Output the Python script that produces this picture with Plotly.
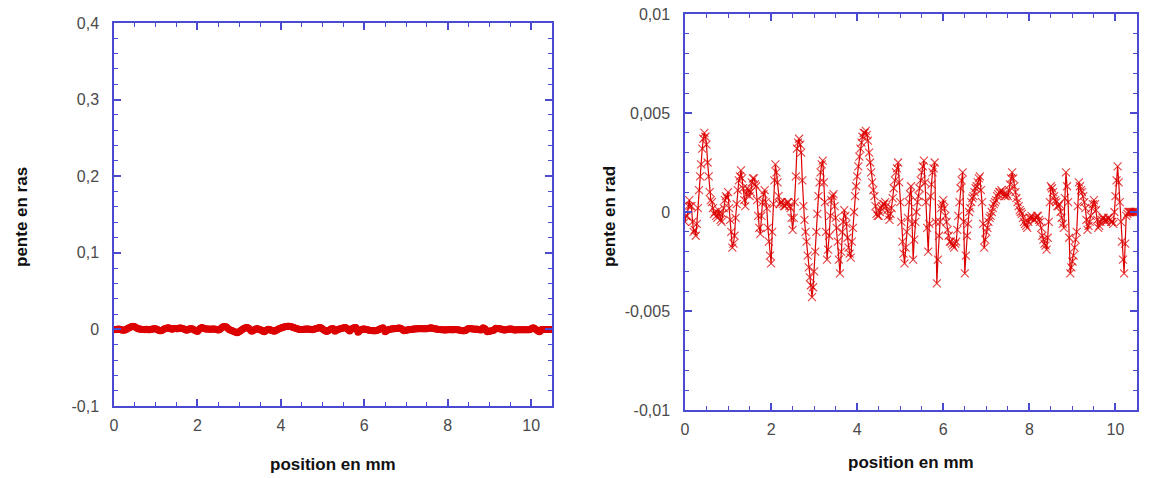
import numpy as np
import plotly.graph_objects as go

# positions (mm): main samples every 0.05 mm, plus in-between samples
x_step = 0.05
n_pts = 211
positions_main = [round(i * x_step, 3) for i in range(n_pts)]
positions_mid = [round(0.025 + i * x_step, 3) for i in range(n_pts - 1)]

# slope values in mrad
slope_mrad_main = [
    -0.5, -0.2, 0.6, 0.3, -1.0, -1.2, 0.2, 1.8, 3.2, 4.0,
    3.4, 1.8, 0.6, 0.2, 0.0, -0.3, -0.1, -0.5, 0.2, 0.8,
    1.0, -0.4, -1.8, -1.2, 0.4, 1.6, 2.1, 1.2, 0.3, 1.2,
    0.8, 1.5, 1.7, 1.3, -0.2, -1.1, 0.5, 1.1, 0.2, -1.5,
    -2.6, 0.4, 2.4, 1.5, 0.4, 0.5, 0.3, 0.4, 0.5, 0.2,
    -0.9, 0.5, 3.2, 3.7, 3.0, 0.3, -1.0, -2.2, -3.3, -4.3,
    -3.0, -1.0, 0.8, 2.0, 2.6, 0.5, -2.4, -1.2, 0.6, 0.9,
    -0.3, -1.5, -3.1, -1.0, 0.1, -0.6, -1.8, -2.3, -0.8, 0.8,
    1.8, 2.8, 3.5, 4.0, 4.1, 3.6, 2.5, 1.5, 0.8, -0.1,
    -0.2, 0.2, 0.4, 0.5, 0.1, -0.4, 0.2, 1.2, 2.0, 2.5,
    0.5, -1.5, -2.6, -1.0, 0.5, 1.3, -2.4, -0.5, 0.5, 1.2,
    2.0, 2.6, 0.5, -2.0, 0.8, 2.0, 2.5, -3.6, -1.2, 0.2,
    0.6, -0.2, -0.9, -1.5, -1.6, -1.8, -1.5, -0.2, 1.2, 2.0,
    -3.1, -1.2, 0.0, 0.5, 0.8, 1.2, 1.5, 1.8, 0.5, -1.8,
    -1.0, -0.5, -0.2, 0.2, 0.5, 0.8, 1.0, 1.1, 0.9, 0.8,
    0.8, 1.4, 2.0, 1.3, 0.7, 0.3, 0.0, -0.3, -0.6, -0.8,
    -0.3, -0.2, -0.4, -0.3, -0.2, -0.5, -1.2, -1.6, -1.9, -0.5,
    1.3, 1.0, 0.6, 0.3, 0.4, -0.3, -0.8, 2.0, 0.5, -3.1,
    -2.5, -1.8, -1.0, 1.5, 1.1, 0.8, 0.2, -0.9, -0.5, 0.2,
    0.6, 0.1, -0.8, -0.5, -0.3, -0.4, -0.4, -0.3, -0.5, -0.6,
    0.8, 2.3, 0.5, -1.5, -3.1, -0.2, 0.0, 0.0, 0.0, 0.0,
    0.0,
]
slope_mrad_mid = [
    -0.2, 0.3, 0.3, -0.5, -0.9, -0.6, 1.1, 2.4, 3.7, 3.8,
    2.5, 1.0, 0.5, -0.1, -0.2, 0.1, -0.4, -0.1, 0.6, 0.7,
    0.2, -1.0, -1.6, -0.3, 1.1, 1.8, 1.7, 0.6, 0.9, 1.1,
    1.0, 1.7, 1.4, 0.6, -0.8, -0.2, 0.9, 0.5, -0.8, -2.2,
    -1.0, 1.6, 2.0, 0.8, 0.5, 0.4, 0.3, 0.5, 0.3, -0.3,
    -0.3, 1.8, 3.5, 3.4, 1.6, -0.4, -1.5, -2.8, -3.7, -3.8,
    -2.0, -0.1, 1.5, 2.4, 1.5, -1.0, -1.9, -0.2, 0.8, 0.3,
    -0.8, -2.4, -2.0, -0.5, -0.2, -1.3, -2.1, -1.5, 0.0, 1.3,
    2.3, 3.2, 3.8, 4.0, 3.9, 3.0, 2.0, 1.1, 0.3, -0.2,
    0.0, 0.3, 0.4, 0.3, -0.2, -0.1, 0.7, 1.6, 2.2, 1.5,
    -0.5, -2.1, -1.8, -0.3, 0.9, -0.6, -1.4, 0.0, 0.8, 1.6,
    2.3, 1.5, -0.8, -0.6, 1.4, 2.2, -0.5, -2.4, -0.5, 0.4,
    0.2, -0.5, -1.2, -1.5, -1.7, -1.6, -0.9, 0.5, 1.6, -0.5,
    -2.2, -0.6, 0.2, 0.7, 1.0, 1.3, 1.7, 1.1, -0.6, -1.4,
    -0.8, -0.3, 0.0, 0.4, 0.6, 0.9, 1.0, 1.0, 0.8, 0.9,
    1.1, 1.7, 1.7, 1.0, 0.5, 0.1, -0.1, -0.5, -0.7, -0.5,
    -0.3, -0.3, -0.4, -0.2, -0.4, -0.8, -1.4, -1.7, -1.3, 0.5,
    1.2, 0.8, 0.5, 0.3, 0.0, -0.6, 0.7, 1.3, -1.3, -2.8,
    -2.2, -1.4, 0.3, 1.3, 1.0, 0.5, -0.4, -0.7, -0.2, 0.4,
    0.4, -0.4, -0.7, -0.4, -0.3, -0.5, -0.3, -0.4, -0.5, 0.0,
    1.6, 1.5, -0.5, -2.4, -1.6, -0.1, 0.0, 0.0, 0.0, 0.0,
]

# merge into a single ordered series
pairs = sorted(zip(positions_main + positions_mid, slope_mrad_main + slope_mrad_mid))
positions = [p for p, _ in pairs]
slope_rad = [v / 1000.0 for _, v in pairs]

x_ticks = [0, 2, 4, 6, 8, 10]
x_ticktext = ["0", "2", "4", "6", "8", "10"]
left_yticks = [-0.1, 0, 0.1, 0.2, 0.3, 0.4]
left_yticktext = ["-0,1", "0", "0,1", "0,2", "0,3", "0,4"]
right_yticks = [-0.01, -0.005, 0, 0.005, 0.01]
right_yticktext = ["-0,01", "-0,005", "0", "0,005", "0,01"]

RED = "#dd0000"
AXIS = "#4b4bd2"
FONT = "Liberation Sans, Arial, sans-serif"

fig = go.Figure()

fig.add_trace(go.Scatter(
    x=positions, y=slope_rad, mode="lines+markers",
    line=dict(color=RED, width=4),
    marker=dict(symbol="circle", size=7, color=RED),
    xaxis="x", yaxis="y", showlegend=False, hoverinfo="skip"))

fig.add_trace(go.Scatter(
    x=positions, y=slope_rad, mode="lines+markers",
    line=dict(color=RED, width=1.2),
    marker=dict(symbol="x-thin", size=8, line=dict(color="rgba(221,0,0,0.75)", width=1.1),
                color=RED),
    xaxis="x2", yaxis="y2", showlegend=False, hoverinfo="skip"))

W, H = 1149, 478

def common_axis(**kw):
    d = dict(showline=True, linecolor=AXIS, linewidth=1.5, mirror="allticks",
             ticks="inside", tickcolor=AXIS, ticklen=7, tickwidth=1.5,
             showgrid=False, zeroline=False, automargin=False,
             tickfont=dict(family=FONT, size=16, color="#4a4a4a"))
    d.update(kw)
    return d

fig.update_layout(
    width=W, height=H, autosize=False,
    margin=dict(l=0, r=0, t=0, b=0, pad=0),
    paper_bgcolor="white", plot_bgcolor="white",
    font=dict(family=FONT),
    xaxis=common_axis(domain=[114 / W, 552 / W], range=[0, 10.5],
                      tickvals=x_ticks, ticktext=x_ticktext, anchor="y",
                      ticklabelstandoff=4,
                      minor=dict(dtick=0.5, ticks="inside", ticklen=4, tickcolor=AXIS, tickwidth=1.2)),
    yaxis=common_axis(domain=[(H - 406) / H, (H - 23) / H], range=[-0.1, 0.4],
                      tickvals=left_yticks, ticktext=left_yticktext, anchor="x",
                      ticklabelstandoff=10,
                      minor=dict(dtick=0.02, ticks="inside", ticklen=4, tickcolor=AXIS, tickwidth=1.2)),
    xaxis2=common_axis(domain=[685 / W, 1137 / W], range=[0, 10.5],
                       tickvals=x_ticks, ticktext=x_ticktext, anchor="y2",
                       ticklabelstandoff=4,
                       minor=dict(dtick=0.5, ticks="inside", ticklen=4, tickcolor=AXIS, tickwidth=1.2)),
    yaxis2=common_axis(domain=[(H - 410) / H, (H - 14) / H], range=[-0.01, 0.01],
                       tickvals=right_yticks, ticktext=right_yticktext, anchor="x2",
                       ticklabelstandoff=10,
                       minor=dict(dtick=0.001, ticks="inside", ticklen=4, tickcolor=AXIS, tickwidth=1.2)),
)

title_font = dict(family=FONT, size=17, color="#111111")
annots = [
    dict(text="<b>position en mm</b>", x=333 / W, y=(H - 464) / H),
    dict(text="<b>position en mm</b>", x=911 / W, y=(H - 462) / H),
    dict(text="<b>pente en ras</b>", x=21 / W, y=(H - 217) / H, textangle=-90),
    dict(text="<b>pente en rad</b>", x=609 / W, y=(H - 217) / H, textangle=-90),
]
for a in annots:
    fig.add_annotation(xref="paper", yref="paper", showarrow=False,
                       xanchor="center", yanchor="middle", font=title_font, **a)

fig.write_html("out.html")
